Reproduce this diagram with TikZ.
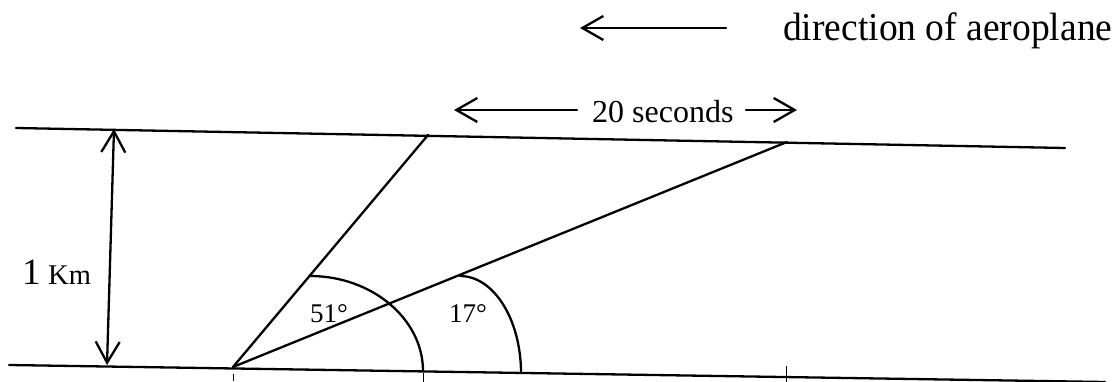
\documentclass[tikz,border=0pt]{standalone}
\usepackage{fontspec}
\setmainfont{Liberation Serif}
\usetikzlibrary{arrows.meta}
\begin{document}
\begin{tikzpicture}[x=1pt,y=-1pt,
  thick line/.style={line width=2.3pt, line cap=round, line join=round},
  barb/.style={-{Straight Barb[length=21pt,width=24pt]}},
  barbs/.style={{Straight Barb[length=21pt,width=24pt]}-{Straight Barb[length=21pt,width=24pt]}},
  tick/.style={line width=0.9pt},
  lbl/.style={anchor=base west, inner sep=0pt}
]
\useasboundingbox (0,0) rectangle (1120,382);
% ground and flight lines
\coordinate (TL) at (16,128);
\coordinate (TR) at (1065,148);
\coordinate (BL) at (9,365);
\coordinate (BR) at (1105,382);
\draw[thick line] (TL) -- (TR);
\draw[thick line] (BL) -- (BR);
% 1 km arrow
\coordinate (VT) at (114,129);
\coordinate (VB) at (107,365);
\draw[thick line, barbs] (VB) -- (VT);
% sight lines
\coordinate (A) at (233,367);
\coordinate (B) at (428,135);
\coordinate (C) at (787,142);
\draw[thick line] (A) -- (B);
\draw[thick line] (A) -- (C);
% angle arcs
\coordinate (S1) at (310,276);
\coordinate (E1) at (423,371);
\draw[thick line] (S1) .. controls (372,276) and (423,319) .. (E1);
\coordinate (S2) at (460,276);
\coordinate (E2) at (521,373);
\draw[thick line] (S2) .. controls (494,276) and (521,320) .. (E2);
% ticks
\coordinate (T1a) at (233,374); \coordinate (T1b) at (233,381);
\coordinate (T2a) at (423,373); \coordinate (T2b) at (423,382);
\coordinate (T3a) at (786,366); \coordinate (T3b) at (786,382);
\draw[tick] (T1a) -- (T1b);
\draw[tick] (T2a) -- (T2b);
\draw[tick] (T3a) -- (T3b);
% labels
\node[lbl, font=\fontsize{37}{40}\selectfont] (one) at (22,285) {1};
\node[lbl, font=\fontsize{28.5}{32}\selectfont] (km) at (48,285) {Km};
\node[font=\fontsize{27}{30}\selectfont, inner sep=0pt] (a51) at (329,314) {51°};
\node[font=\fontsize{27}{30}\selectfont, inner sep=0pt] (a17) at (468,314) {17°};
\node[lbl, font=\fontsize{32}{36}\selectfont] (sec) at (592,123) {20 seconds};
\coordinate (L1) at (577,110);
\coordinate (L2) at (454,110);
\coordinate (R1) at (746,110);
\coordinate (R2) at (797,110);
\draw[thick line, barb] (L1) -- (L2);
\draw[thick line, barb] (R1) -- (R2);
\node[lbl, font=\fontsize{39.5}{42}\selectfont] (dir) at (783,41) {\scalebox{0.95}[1]{direction of aeroplane}};
\coordinate (D1) at (726,28);
\coordinate (D2) at (580,28);
\draw[thick line, barb] (D1) -- (D2);
\end{tikzpicture}
\end{document}
